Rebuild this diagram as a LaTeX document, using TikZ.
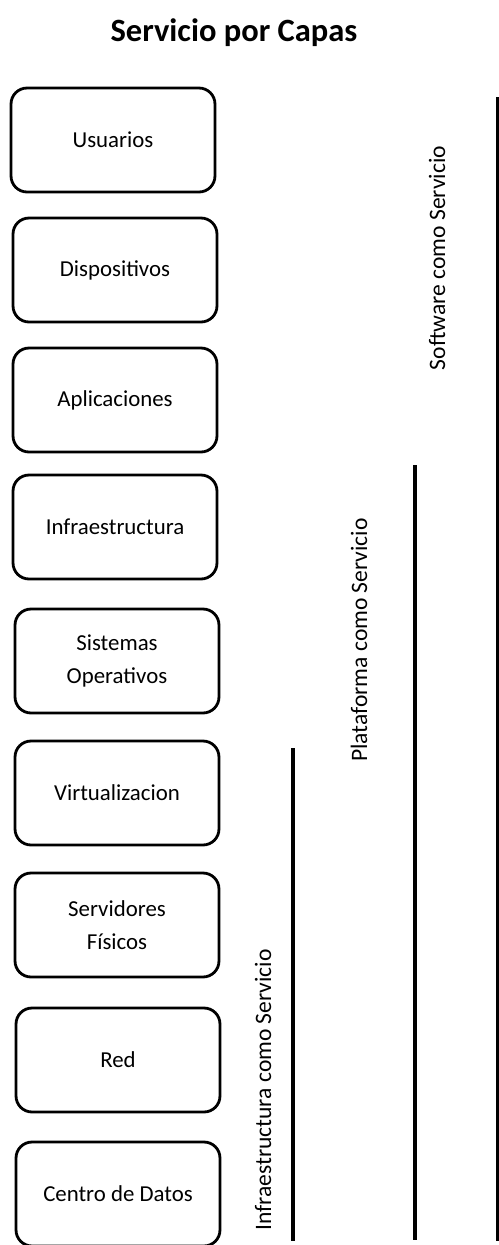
\documentclass[tikz,border=0pt]{standalone}
\usepackage{fontspec}
\setmainfont{Carlito}
\tikzset{capa/.style={draw,line width=1.6pt,rounded corners=0.32cm,minimum width=4.08cm,minimum height=2.08cm,align=center,font=\fontsize{13}{19}\selectfont},
 barra/.style={line width=2pt},
 rotulo/.style={rotate=90,font=\fontsize{13.4}{15}\selectfont}}
\begin{document}
\begin{tikzpicture}[x=0.02cm,y=-0.02cm]
 \useasboundingbox (0,0) rectangle (499,1245);
 \node[font=\bfseries\fontsize{18.5}{21}\selectfont] (titulo) at (234,33) {Servicio por Capas};
 \node[capa] (usuarios) at (113,140) {Usuarios};
 \node[capa] (dispositivos) at (115,270) {Dispositivos};
 \node[capa] (aplicaciones) at (115,400) {Aplicaciones};
 \node[capa] (infra) at (115,527) {Infraestructura};
 \node[capa] (so) at (117,661) {Sistemas\\Operativos};
 \node[capa] (virt) at (117,793) {Virtualizacion};
 \node[capa] (servidores) at (117,925) {Servidores\\Físicos};
 \node[capa] (red) at (118,1060) {Red};
 \node[capa] (datos) at (118,1194) {Centro de Datos};
 \draw[barra] (498,97) -- (498,1241);
 \draw[barra] (415,465) -- (415,1240);
 \draw[barra] (293,748) -- (293,1241);
 \node[rotulo] (saas) at (437,258) {Software como Servicio};
 \node[rotulo] (paas) at (359,640) {Plataforma como Servicio};
 \node[rotulo] (iaas) at (263,1090) {Infraestructura como Servicio};
\end{tikzpicture}
\end{document}
